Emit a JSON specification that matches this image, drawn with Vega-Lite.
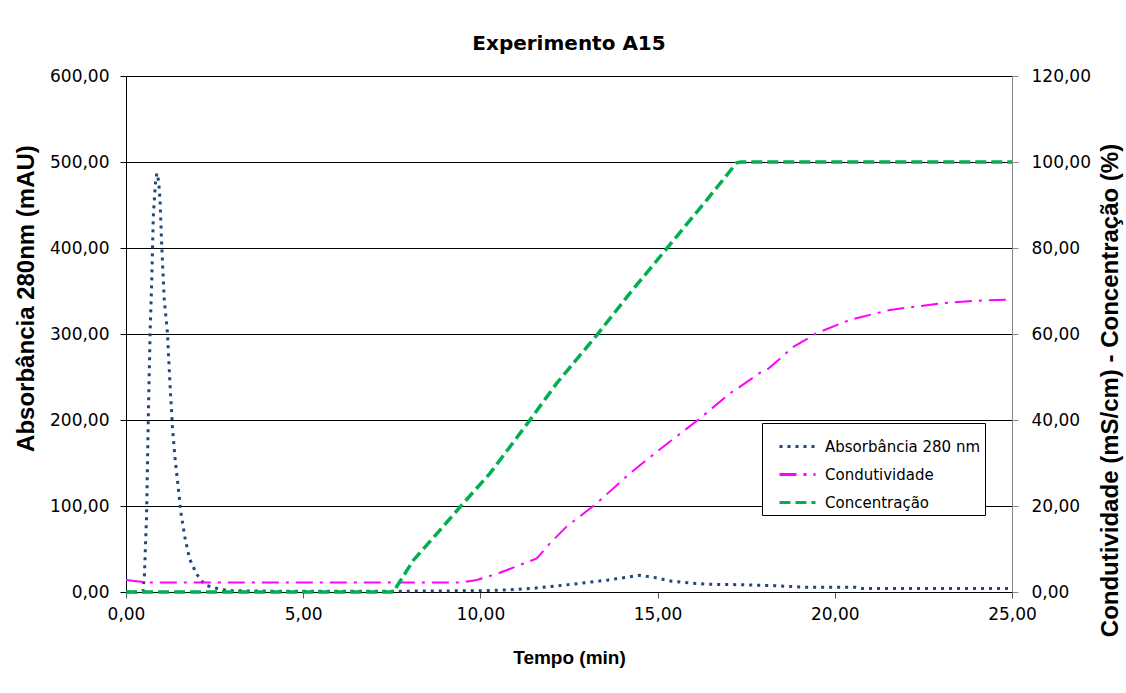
{
  "$schema": "https://vega.github.io/schema/vega-lite/v6.json",
  "autosize": {"type": "none"},
  "width": 886,
  "height": 516,
  "padding": {"left": 126, "top": 76, "right": 114, "bottom": 101},
  "background": "white",
  "title": {
    "text": "Experimento A15",
    "font": "DejaVu Sans",
    "fontSize": 20,
    "fontWeight": "bold",
    "color": "black",
    "anchor": "middle",
    "offset": 13
  },
  "datasets": {
    "leituras": [
      {"tempo": 0, "valor": 0, "serie": "Absorbância 280 nm"},
      {"tempo": 0.3, "valor": 0, "serie": "Absorbância 280 nm"},
      {"tempo": 0.48, "valor": 1, "serie": "Absorbância 280 nm"},
      {"tempo": 0.52, "valor": 20, "serie": "Absorbância 280 nm"},
      {"tempo": 0.58, "valor": 88, "serie": "Absorbância 280 nm"},
      {"tempo": 0.63, "valor": 204, "serie": "Absorbância 280 nm"},
      {"tempo": 0.68, "valor": 301, "serie": "Absorbância 280 nm"},
      {"tempo": 0.73, "valor": 367, "serie": "Absorbância 280 nm"},
      {"tempo": 0.77, "valor": 436, "serie": "Absorbância 280 nm"},
      {"tempo": 0.83, "valor": 475, "serie": "Absorbância 280 nm"},
      {"tempo": 0.87, "valor": 487, "serie": "Absorbância 280 nm"},
      {"tempo": 0.92, "valor": 478, "serie": "Absorbância 280 nm"},
      {"tempo": 0.96, "valor": 456, "serie": "Absorbância 280 nm"},
      {"tempo": 1.01, "valor": 401, "serie": "Absorbância 280 nm"},
      {"tempo": 1.08, "valor": 340, "serie": "Absorbância 280 nm"},
      {"tempo": 1.17, "valor": 301, "serie": "Absorbância 280 nm"},
      {"tempo": 1.24, "valor": 243, "serie": "Absorbância 280 nm"},
      {"tempo": 1.31, "valor": 192, "serie": "Absorbância 280 nm"},
      {"tempo": 1.38, "valor": 157, "serie": "Absorbância 280 nm"},
      {"tempo": 1.48, "valor": 119, "serie": "Absorbância 280 nm"},
      {"tempo": 1.55, "valor": 92, "serie": "Absorbância 280 nm"},
      {"tempo": 1.66, "valor": 64, "serie": "Absorbância 280 nm"},
      {"tempo": 1.79, "valor": 39, "serie": "Absorbância 280 nm"},
      {"tempo": 1.9, "valor": 29, "serie": "Absorbância 280 nm"},
      {"tempo": 1.99, "valor": 21, "serie": "Absorbância 280 nm"},
      {"tempo": 2.23, "valor": 8, "serie": "Absorbância 280 nm"},
      {"tempo": 2.42, "valor": 6, "serie": "Absorbância 280 nm"},
      {"tempo": 2.65, "valor": 3, "serie": "Absorbância 280 nm"},
      {"tempo": 3.0, "valor": 1.5, "serie": "Absorbância 280 nm"},
      {"tempo": 4.0, "valor": 1, "serie": "Absorbância 280 nm"},
      {"tempo": 6.0, "valor": 1, "serie": "Absorbância 280 nm"},
      {"tempo": 8.0, "valor": 1, "serie": "Absorbância 280 nm"},
      {"tempo": 10.0, "valor": 1.5, "serie": "Absorbância 280 nm"},
      {"tempo": 10.8, "valor": 2.5, "serie": "Absorbância 280 nm"},
      {"tempo": 11.5, "valor": 4.3, "serie": "Absorbância 280 nm"},
      {"tempo": 12.0, "valor": 6.5, "serie": "Absorbância 280 nm"},
      {"tempo": 12.6, "valor": 9, "serie": "Absorbância 280 nm"},
      {"tempo": 13.1, "valor": 11.5, "serie": "Absorbância 280 nm"},
      {"tempo": 13.6, "valor": 14, "serie": "Absorbância 280 nm"},
      {"tempo": 14.1, "valor": 17, "serie": "Absorbância 280 nm"},
      {"tempo": 14.5, "valor": 19.4, "serie": "Absorbância 280 nm"},
      {"tempo": 14.9, "valor": 17, "serie": "Absorbância 280 nm"},
      {"tempo": 15.4, "valor": 12.5, "serie": "Absorbância 280 nm"},
      {"tempo": 15.9, "valor": 10.5, "serie": "Absorbância 280 nm"},
      {"tempo": 16.4, "valor": 9, "serie": "Absorbância 280 nm"},
      {"tempo": 17.3, "valor": 8.5, "serie": "Absorbância 280 nm"},
      {"tempo": 18.3, "valor": 7.4, "serie": "Absorbância 280 nm"},
      {"tempo": 19.2, "valor": 5.5, "serie": "Absorbância 280 nm"},
      {"tempo": 20.6, "valor": 5.4, "serie": "Absorbância 280 nm"},
      {"tempo": 20.8, "valor": 4, "serie": "Absorbância 280 nm"},
      {"tempo": 25.0, "valor": 4, "serie": "Absorbância 280 nm"},

      {"tempo": 0, "valor": 2.8, "serie": "Condutividade"},
      {"tempo": 0.3, "valor": 2.5, "serie": "Condutividade"},
      {"tempo": 0.6, "valor": 2.2, "serie": "Condutividade"},
      {"tempo": 5.0, "valor": 2.2, "serie": "Condutividade"},
      {"tempo": 9.42, "valor": 2.2, "serie": "Condutividade"},
      {"tempo": 9.9, "valor": 2.8, "serie": "Condutividade"},
      {"tempo": 10.46, "valor": 4.2, "serie": "Condutividade"},
      {"tempo": 11.12, "valor": 6.3, "serie": "Condutividade"},
      {"tempo": 11.59, "valor": 7.8, "serie": "Condutividade"},
      {"tempo": 11.96, "valor": 11.3, "serie": "Condutividade"},
      {"tempo": 12.43, "valor": 15.2, "serie": "Condutividade"},
      {"tempo": 13.28, "valor": 20.6, "serie": "Condutividade"},
      {"tempo": 14.22, "valor": 27.6, "serie": "Condutividade"},
      {"tempo": 15.16, "valor": 33.8, "serie": "Condutividade"},
      {"tempo": 16.2, "valor": 40.4, "serie": "Condutividade"},
      {"tempo": 17.04, "valor": 46.2, "serie": "Condutividade"},
      {"tempo": 17.32, "valor": 47.7, "serie": "Condutividade"},
      {"tempo": 17.89, "valor": 51.0, "serie": "Condutividade"},
      {"tempo": 18.08, "valor": 51.6, "serie": "Condutividade"},
      {"tempo": 18.83, "valor": 57.0, "serie": "Condutividade"},
      {"tempo": 19.49, "valor": 60.2, "serie": "Condutividade"},
      {"tempo": 20.43, "valor": 63.3, "serie": "Condutividade"},
      {"tempo": 21.56, "valor": 65.6, "serie": "Condutividade"},
      {"tempo": 22.97, "valor": 67.1, "serie": "Condutividade"},
      {"tempo": 23.91, "valor": 67.7, "serie": "Condutividade"},
      {"tempo": 25.0, "valor": 68.0, "serie": "Condutividade"},

      {"tempo": 0, "valor": 0, "serie": "Concentração"},
      {"tempo": 7.54, "valor": 0, "serie": "Concentração"},
      {"tempo": 8.11, "valor": 7.4, "serie": "Concentração"},
      {"tempo": 8.86, "valor": 14.4, "serie": "Concentração"},
      {"tempo": 9.47, "valor": 20.2, "serie": "Concentração"},
      {"tempo": 10.27, "valor": 27.6, "serie": "Concentração"},
      {"tempo": 11.4, "valor": 40.0, "serie": "Concentração"},
      {"tempo": 12.15, "valor": 48.5, "serie": "Concentração"},
      {"tempo": 13.33, "valor": 60.2, "serie": "Concentração"},
      {"tempo": 14.22, "valor": 69.5, "serie": "Concentração"},
      {"tempo": 15.26, "valor": 79.9, "serie": "Concentração"},
      {"tempo": 16.39, "valor": 91.2, "serie": "Concentração"},
      {"tempo": 17.23, "valor": 99.8, "serie": "Concentração"},
      {"tempo": 17.35, "valor": 100, "serie": "Concentração"},
      {"tempo": 25.0, "valor": 100, "serie": "Concentração"}
    ]
  },
  "data": {"name": "leituras"},
  "encoding": {
    "x": {
      "field": "tempo",
      "type": "quantitative",
      "scale": {"domain": [0, 25], "nice": false},
      "axis": {
        "title": "Tempo (min)",
        "titleFontSize": 19,
        "values": [0, 5, 10, 15, 20, 25],
        "labelExpr": "replace(format(datum.value, '.2f'), '.', ',')",
        "labelFlush": false,
        "grid": false,
        "domainColor": "black",
        "tickColor": "#555555",
        "tickSize": 6,
        "labelPadding": 8,
        "titlePadding": 26
      }
    },
    "color": {
      "field": "serie",
      "type": "nominal",
      "scale": {
        "domain": ["Absorbância 280 nm", "Condutividade", "Concentração"],
        "range": ["#22467f", "#ff00ff", "#00b050"]
      },
      "legend": {"title": null}
    },
    "strokeDash": {
      "field": "serie",
      "type": "nominal",
      "scale": {
        "domain": ["Absorbância 280 nm", "Condutividade", "Concentração"],
        "range": [[3, 5], [17, 7, 3, 7], [11, 5]]
      },
      "legend": {"title": null}
    }
  },
  "layer": [
    {
      "transform": [{"filter": "datum.serie === 'Absorbância 280 nm'"}],
      "mark": {"type": "line", "strokeWidth": 3},
      "encoding": {
        "y": {
          "field": "valor",
          "type": "quantitative",
          "scale": {"domain": [0, 600], "nice": false},
          "axis": {
            "title": "Absorbância 280nm (mAU)",
            "orient": "left",
            "titleY": 222,
            "titleFontSize": 24,
            "values": [0, 100, 200, 300, 400, 500, 600],
            "labelExpr": "replace(format(datum.value, '.2f'), '.', ',')",
            "grid": true,
            "gridColor": "black",
            "gridWidth": 1,
            "gridOpacity": 1,
            "domainColor": "black",
            "tickColor": "black",
            "tickSize": 6,
            "labelPadding": 11,
            "titlePadding": 11
          }
        }
      }
    },
    {
      "encoding": {
        "y": {
          "field": "valor",
          "type": "quantitative",
          "scale": {"domain": [0, 120], "nice": false},
          "axis": {
            "title": "Condutividade (mS/cm) - Concentração (%)",
            "orient": "right",
            "titleAngle": 270,
            "titleX": 98,
            "titleY": 314,
            "titleAlign": "center",
            "titleBaseline": "middle",
            "titleFontSize": 24,
            "values": [0, 20, 40, 60, 80, 100, 120],
            "labelExpr": "replace(format(datum.value, '.2f'), '.', ',')",
            "grid": false,
            "domainColor": "#888888",
            "tickColor": "#888888",
            "tickSize": 6,
            "labelPadding": 13,
            "titlePadding": 10
          }
        }
      },
      "layer": [
        {
          "transform": [{"filter": "datum.serie === 'Condutividade'"}],
          "mark": {"type": "line", "strokeWidth": 2}
        },
        {
          "transform": [{"filter": "datum.serie === 'Concentração'"}],
          "mark": {"type": "line", "strokeWidth": 3.5}
        }
      ]
    }
  ],
  "resolve": {"scale": {"y": "independent"}},
  "config": {
    "font": "DejaVu Sans",
    "view": {"stroke": null},
    "axis": {
      "labelFont": "DejaVu Sans",
      "labelFontSize": 17,
      "labelColor": "black",
      "titleFont": "Liberation Sans",
      "titleFontWeight": "bold",
      "titleColor": "black",
      "domainWidth": 1,
      "tickWidth": 1
    },
    "legend": {
      "orient": "none",
      "legendX": 636,
      "legendY": 347,
      "direction": "vertical",
      "strokeColor": "black",
      "fillColor": "white",
      "padding": 4,
      "symbolOffset": 12,
      "symbolType": "stroke",
      "symbolSize": 1296,
      "symbolStrokeWidth": 3,
      "labelFont": "DejaVu Sans",
      "labelFontSize": 15,
      "labelColor": "black",
      "labelOffset": 8,
      "rowPadding": -6,
      "labelLimit": 300
    }
  }
}
